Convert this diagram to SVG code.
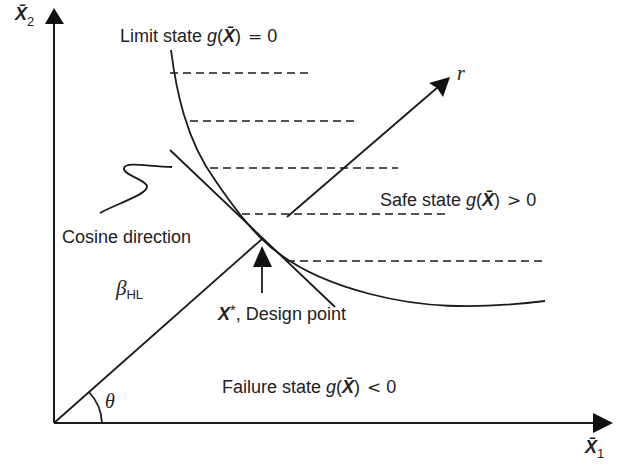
<svg xmlns="http://www.w3.org/2000/svg" width="630" height="466" viewBox="0 0 630 466">
<style>
.ln{fill:none;stroke:#1a1a1a;stroke-width:1.8}
.ax{fill:none;stroke:#1a1a1a;stroke-width:2}
.ds{fill:none;stroke:#1a1a1a;stroke-width:1.6;stroke-dasharray:8 5}
.hd{fill:#111}
text{font-family:"Liberation Sans",Arial,sans-serif;font-size:18px;fill:#222}
.it{font-style:italic}
.bi{font-style:italic;font-weight:bold}
.m{font-family:"Liberation Serif","Times New Roman",serif}
.rel{font-family:"DejaVu Serif","Liberation Serif",serif;font-size:17px}
.sub{font-size:13px}
</style>
<rect width="630" height="466" fill="#fff"/>
<g id="connectors">
<line class="ax" x1="54" y1="423" x2="54" y2="22"/>
<polygon class="hd" points="54,8 45,24 64,24"/>
<line class="ax" x1="54" y1="423" x2="596" y2="423"/>
<polygon class="hd" points="613,423 593,413 593,433"/>
<line class="ln" x1="54" y1="423" x2="262" y2="239"/>
<path class="ln" d="M89,392 A48,48 0 0 1 102,423"/>
<line class="ln" x1="170" y1="150" x2="335" y2="307"/>
<path class="ln" d="M171,50 C176,90 186,140 215,180 C232,205 248,226 262,239 C285,262 320,281 370,294 C420,307 470,310 545,301"/>
<line class="ds" x1="170" y1="73" x2="313" y2="73"/>
<line class="ds" x1="190" y1="121" x2="355" y2="121"/>
<line class="ds" x1="210" y1="168" x2="398" y2="168"/>
<line class="ds" x1="242" y1="214" x2="446" y2="214"/>
<line class="ds" x1="287" y1="261" x2="547" y2="261"/>
<line class="ln" x1="287" y1="217" x2="438" y2="87"/>
<polygon class="hd" points="450,77 443,97 437,88 429,83"/>
<line class="ln" x1="262" y1="293" x2="262" y2="264"/>
<polygon class="hd" points="262,246 253,267 272,267"/>
<path class="ln" d="M172,167 C150,167 126,161 124,168 C122,175 148,180 147,187 C146,195 116,204 100,213"/>
</g>
<g id="axis-x2"><text x="15" y="20"><tspan class="bi">X̄</tspan><tspan class="sub" dy="6">2</tspan></text></g>
<g id="axis-x1"><text x="585" y="453"><tspan class="bi">X̄</tspan><tspan class="sub" dy="5">1</tspan></text></g>
<g id="limit-state"><text x="120" y="42">Limit state <tspan class="it">g</tspan>(<tspan class="bi">X̄</tspan>) <tspan class="rel" dx="2">=</tspan> <tspan>0</tspan></text></g>
<g id="safe-state"><text x="380" y="206">Safe state <tspan class="it">g</tspan>(<tspan class="bi">X̄</tspan>) <tspan class="rel" dx="2">&gt;</tspan> <tspan>0</tspan></text></g>
<g id="failure-state"><text x="222" y="393">Failure state <tspan class="it">g</tspan>(<tspan class="bi">X̄</tspan>) <tspan class="rel" dx="2">&lt;</tspan> <tspan>0</tspan></text></g>
<g id="cosine"><text x="62" y="243">Cosine direction</text></g>
<g id="beta"><text x="116" y="295"><tspan class="m it" style="font-size:21px">β</tspan><tspan class="sub" dy="4">HL</tspan></text></g>
<g id="design-point"><text x="218" y="320"><tspan class="bi">X</tspan><tspan style="font-size:15px" dy="-5">*</tspan><tspan dy="5">, Design point</tspan></text></g>
<g id="theta"><text x="105" y="408" class="m it" style="font-size:20px">θ</text></g>
<g id="r-label"><text x="457" y="80" class="m it" style="font-size:20px">r</text></g>
</svg>
